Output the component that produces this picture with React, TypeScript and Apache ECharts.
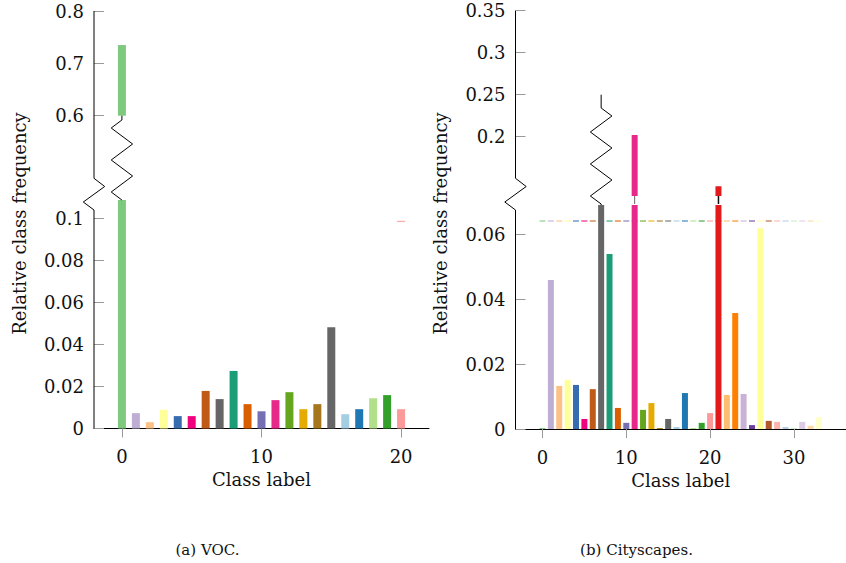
import React, { useEffect, useRef } from 'react';
import * as echarts from 'echarts';

// ---------- data ----------
const vocClassIds = [0, 1, 2, 3, 4, 5, 6, 7, 8, 9, 10, 11, 12, 13, 14, 15, 16, 17, 18, 19, 20];
const vocValues = [0.735, 0.0073, 0.003, 0.0089, 0.0059, 0.0059, 0.0179, 0.014, 0.0274, 0.0116, 0.0082,
  0.0135, 0.0173, 0.0092, 0.0116, 0.0482, 0.0068, 0.0092, 0.0144, 0.0159, 0.0092];
const vocColors = ['#7fc97f', '#beaed4', '#fdc086', '#ffff99', '#386cb0', '#f0027f', '#bf5b17', '#666666',
  '#1b9e77', '#d95f02', '#7570b3', '#e7298a', '#66a61e', '#e6ab02', '#a6761d', '#666666',
  '#a6cee3', '#1f78b4', '#b2df8a', '#33a02c', '#fb9a99'];

const cityClassIds = [0, 1, 2, 3, 4, 5, 6, 7, 8, 9, 10, 11, 12, 13, 14, 15, 16, 17, 18, 19, 20,
  21, 22, 23, 24, 25, 26, 27, 28, 29, 30, 31, 32, 33];
const cityValues = [0.0003, 0.046, 0.0133, 0.0152, 0.0136, 0.0031, 0.0123, 0.327, 0.054, 0.0065, 0.0019,
  0.202, 0.0059, 0.008, 0.0003, 0.0031, 0.0006, 0.0111, 0.0003, 0.0019, 0.0049,
  0.141, 0.0105, 0.0358, 0.0108, 0.0012, 0.062, 0.0025, 0.0022, 0.0006, 0.0003, 0.0022, 0.001, 0.0037];
const cityColors = ['#7fc97f', '#beaed4', '#fdc086', '#ffff99', '#386cb0', '#f0027f', '#bf5b17', '#666666',
  '#1b9e77', '#d95f02', '#7570b3', '#e7298a', '#66a61e', '#e6ab02', '#a6761d', '#666666',
  '#a6cee3', '#1f78b4', '#b2df8a', '#33a02c', '#fb9a99', '#e31a1c', '#fdbf6f', '#ff7f00',
  '#cab2d6', '#6a3d9a', '#ffff99', '#b15928', '#fbb4ae', '#b3cde3', '#ccebc5', '#decbe4', '#fed9a6', '#ffffcc'];

// axis extents
const vocX = [-2, 22];
const vocLowerY = [0, 0.1088];
const vocUpperY = [0.6, 0.8];
const cityX = [-3.22, 36.22];
const cityLowerY = [0, 0.06914];
const cityUpperY = [0.1294, 0.35];

// tick labels
const vocXTicks = [0, 10, 20];
const vocLowerTicks = [0, 0.02, 0.04, 0.06, 0.08, 0.1];
const vocUpperTicks = [0.6, 0.7, 0.8];
const cityXTicks = [0, 10, 20, 30];
const cityLowerTicks = [0, 0.02, 0.04, 0.06];
const cityUpperTicks = [0.2, 0.25, 0.3, 0.35];

// broken bars: where the upper segment resumes after a zigzag
const cityZigzagClasses = [7];
const cityZigzagResume = [0.25];

// reference dashes
const vocMarkClasses = [20];
const vocMarkValues = [0.0986];
const cityMarkValue = 0.0642;

const texts = {
  yName: 'Relative class frequency',
  xName: 'Class label',
  capA: '(a) VOC.',
  capB: '(b) Cityscapes.',
};

// ---------- styling ----------
const FONT = '"DejaVu Serif", "Liberation Serif", serif';
const TXT = '#111';
const TICK = '#9a9a9a';

const xAxisLower = (idx: number, ext: number[], ticks: number[]) => ({
  type: 'value', gridIndex: idx, min: ext[0], max: ext[1],
  axisLine: { show: true, onZero: false, lineStyle: { color: '#000', width: 1 } },
  axisTick: { show: true, inside: false, length: 9, customValues: ticks, lineStyle: { color: TICK, width: 1 } },
  axisLabel: { show: true, customValues: ticks, margin: 19, fontFamily: FONT, fontSize: 18, color: TXT },
  splitLine: { show: false },
  name: texts.xName, nameLocation: 'middle', nameGap: 42,
  nameTextStyle: { fontFamily: FONT, fontSize: 18, color: TXT },
});
const xAxisHidden = (idx: number, ext: number[]) => ({
  type: 'value', gridIndex: idx, min: ext[0], max: ext[1], show: false,
});
const yAxisOf = (idx: number, ext: number[], ticks: number[]) => ({
  type: 'value', gridIndex: idx, min: ext[0], max: ext[1],
  axisLine: { show: false, onZero: false },
  axisTick: { show: true, inside: true, length: 10, customValues: ticks, lineStyle: { color: TICK, width: 1 } },
  axisLabel: { show: true, customValues: ticks, margin: 10, fontFamily: FONT, fontSize: 18, color: TXT },
  splitLine: { show: false },
});

function zigzag(x: number, y0: number, y1: number, leadTop: number, leadBottom: number,
  peaks: number, amp: number, dir: number) {
  const pts: number[][] = [[x, y0], [x, y0 + leadTop]];
  const a = y0 + leadTop;
  const b = y1 - leadBottom;
  const unit = (b - a) / peaks;
  for (let k = 0; k < peaks; k++) {
    pts.push([x + (k % 2 === 0 ? dir : -dir) * amp, a + unit * (k + 0.5)]);
  }
  pts.push([x, b]);
  if (leadBottom > 0) pts.push([x, y1]);
  return pts;
}

export default function App() {
  const ref = useRef<HTMLDivElement>(null);
  useEffect(() => {
    document.body.style.margin = '0';
    if (!ref.current) return;
    const chart = echarts.init(ref.current, null, { renderer: 'svg' });

    const vocUpperData = vocClassIds
      .map((c, i) => ({ c, v: vocValues[i], col: vocColors[i] }))
      .filter((d) => d.v > vocUpperY[0]);
    const cityUpperData = cityClassIds
      .map((c, i) => ({ c, v: cityValues[i], col: cityColors[i] }))
      .filter((d) => d.v > cityUpperY[0])
      .map((d) => {
        const zi = cityZigzagClasses.indexOf(d.c);
        return { ...d, base: zi >= 0 ? cityZigzagResume[zi] : 0 };
      });

    const option: any = {
      animation: false,
      backgroundColor: '#fff',
      grid: [
        { left: 94, top: 200, width: 335, height: 228.5 },
        { left: 94, top: 11, width: 335, height: 104.7 },
        { left: 515.5, top: 205, width: 333, height: 224 },
        { left: 515.5, top: 10.7, width: 333, height: 185.3 },
      ],
      xAxis: [
        xAxisLower(0, vocX, vocXTicks),
        xAxisHidden(1, vocX),
        xAxisLower(2, cityX, cityXTicks),
        xAxisHidden(3, cityX),
      ],
      yAxis: [
        yAxisOf(0, vocLowerY, vocLowerTicks),
        yAxisOf(1, vocUpperY, vocUpperTicks),
        yAxisOf(2, cityLowerY, cityLowerTicks),
        yAxisOf(3, cityUpperY, cityUpperTicks),
      ],
      series: [
        {
          type: 'bar', xAxisIndex: 0, yAxisIndex: 0, barWidth: 8, clip: true, z: 3, silent: true,
          data: vocClassIds.map((c, i) => ({ value: [c, vocValues[i]], itemStyle: { color: vocColors[i] } })),
        },
        {
          type: 'bar', xAxisIndex: 1, yAxisIndex: 1, barWidth: 8, clip: true, z: 3, silent: true,
          data: vocUpperData.map((d) => ({ value: [d.c, d.v], itemStyle: { color: d.col } })),
        },
        {
          type: 'bar', xAxisIndex: 2, yAxisIndex: 2, barWidth: 6, clip: true, z: 3, silent: true,
          data: cityClassIds.map((c, i) => ({ value: [c, cityValues[i]], itemStyle: { color: cityColors[i] } })),
        },
        {
          type: 'bar', xAxisIndex: 3, yAxisIndex: 3, barWidth: 6, clip: true, z: 3, silent: true, stack: 'up',
          data: cityUpperData.map((d) => ({ value: [d.c, d.base], itemStyle: { color: 'rgba(0,0,0,0)' } })),
        },
        {
          type: 'bar', xAxisIndex: 3, yAxisIndex: 3, barWidth: 6, clip: true, z: 3, silent: true, stack: 'up',
          data: cityUpperData.map((d) => ({ value: [d.c, d.v - d.base], itemStyle: { color: d.col } })),
        },
        {
          type: 'scatter', xAxisIndex: 2, yAxisIndex: 2, symbol: 'rect', symbolSize: [6, 1.3], z: 1, silent: true,
          data: cityClassIds.map((c, i) => ({ value: [c, cityMarkValue], itemStyle: { color: cityColors[i] } })),
        },
        {
          type: 'scatter', xAxisIndex: 0, yAxisIndex: 0, symbol: 'rect', symbolSize: [8, 1.3], z: 1, silent: true,
          data: vocMarkClasses.map((c, i) => ({ value: [c, vocMarkValues[i]], itemStyle: { color: vocColors[c] } })),
        },
      ],
    };
    chart.setOption(option);

    // decorations computed from the axes
    const px = (g: number, p: number[]) => chart.convertToPixel({ gridIndex: g }, p) as number[];
    const BREAK_TOP = 178.3;
    const BREAK_BOTTOM = 210;
    const axisPath = (lowerG: number, upperG: number, xmin: number, ymaxUpper: number) => {
      const bottom = px(lowerG, [xmin, 0]);
      const top = px(upperG, [xmin, ymaxUpper]);
      const ax = bottom[0];
      return [[ax, top[1]], [ax, BREAK_TOP], [ax + 10.7, BREAK_TOP + 8.2], [ax - 10.7, BREAK_TOP + 23.7],
        [ax, BREAK_BOTTOM], [ax, bottom[1]]];
    };
    const lineStyle = { stroke: '#000', lineWidth: 1, fill: null };
    const graphics: any[] = [
      { type: 'polyline', silent: true, z: 20, shape: { points: axisPath(0, 1, vocX[0], vocUpperY[1]) }, style: lineStyle },
      { type: 'polyline', silent: true, z: 20, shape: { points: axisPath(2, 3, cityX[0], cityUpperY[1]) }, style: lineStyle },
    ];
    // VOC broken bars
    vocUpperData.forEach((d) => {
      const t = px(1, [d.c, vocUpperY[0]]);
      const b = px(0, [d.c, vocLowerY[1]]);
      graphics.push({ type: 'polyline', silent: true, z: 20,
        shape: { points: zigzag(t[0], t[1], b[1], 4.3, 0, 5, 10.7, -1) }, style: lineStyle });
    });
    // Cityscapes broken bars
    cityUpperData.forEach((d) => {
      const b = px(2, [d.c, cityLowerY[1]]);
      if (d.base > 0) {
        const t = px(3, [d.c, d.base]);
        graphics.push({ type: 'polyline', silent: true, z: 20,
          shape: { points: zigzag(t[0], t[1], b[1], 13.3, 1, 6, 10.8, 1) }, style: lineStyle });
      } else {
        const t = px(3, [d.c, cityUpperY[0]]);
        graphics.push({ type: 'line', silent: true, z: 20,
          shape: { x1: t[0], y1: t[1], x2: b[0], y2: b[1] - 1 },
          style: { stroke: d.c === 11 ? '#666' : '#111', lineWidth: d.c === 11 ? 1 : 1.5 } });
      }
    });
    const textEl = (x: number, y: number, text: string, size: number, rot = 0) => ({
      type: 'text', x, y, rotation: rot, silent: true, z: 20,
      style: {
        text, fontFamily: FONT, fontSize: size, fill: TXT,
        align: 'center', verticalAlign: 'middle', textAlign: 'center', textVerticalAlign: 'middle',
      },
    });
    graphics.push(textEl(19, 223.5, texts.yName, 18, Math.PI / 2));
    graphics.push(textEl(440, 223.5, texts.yName, 18, Math.PI / 2));
    graphics.push(textEl(207.5, 550, texts.capA, 15));
    graphics.push(textEl(636.5, 550, texts.capB, 15));
    chart.setOption({ graphic: graphics });

    return () => chart.dispose();
  }, []);
  return <div ref={ref} style={{ width: 846, height: 563 }} />;
}
